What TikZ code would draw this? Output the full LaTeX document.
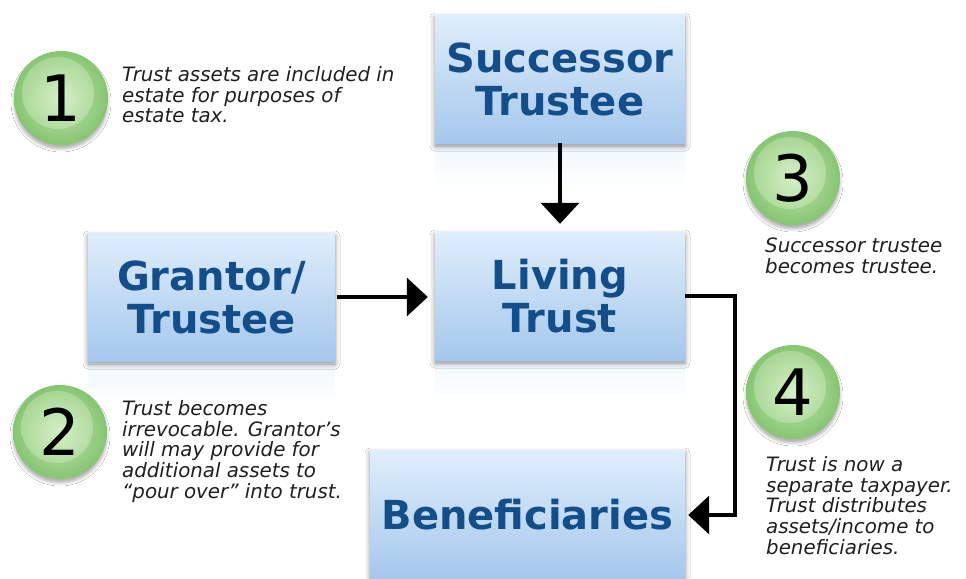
\documentclass[tikz,border=0pt]{standalone}
\usepackage{fontspec}
\setmainfont{DejaVu Sans}
\usetikzlibrary{arrows.meta,shadows.blur}
\definecolor{boxtop}{HTML}{DFEEFB}
\definecolor{boxbot}{HTML}{A5C7EC}
\definecolor{boxtext}{HTML}{134E8A}
\definecolor{gouter}{HTML}{86C571}
\definecolor{ginner}{HTML}{C4E7B2}
\definecolor{hlinner}{HTML}{E2F5D6}
\definecolor{hlouter}{HTML}{B4DDA2}
\begin{document}
\begin{tikzpicture}[x=1pt,y=-1pt,
  boxnode/.style={draw=none, top color=boxtop, bottom color=boxbot,
    minimum width=#1, minimum height=128pt, inner sep=0pt, align=center,
    text=boxtext, font=\fontsize{40}{43}\selectfont\bfseries,
    blur shadow={shadow xshift=0pt, shadow yshift=-3pt, shadow blur radius=5pt, shadow opacity=45}},
  boxnode/.default=250pt,
  reflect/.style={draw=none, top color=boxtop!45!white, bottom color=white},
  numcirc/.style={circle, minimum size=94pt, inner sep=0pt, draw=none,
    inner color=ginner, outer color=gouter,
    font=\fontsize{64}{64}\selectfont,
    blur shadow={shadow xshift=0pt, shadow yshift=-4pt, shadow blur radius=3pt, shadow opacity=30},
    path picture={\shade[inner color=hlinner, outer color=hlouter, opacity=0.6]
      ([xshift=-3pt,yshift=5pt]path picture bounding box.center) circle (36pt);}},
  note/.style={anchor=north west, inner sep=0pt, align=left,
    font=\fontsize{19.8}{20.8}\selectfont\itshape, text=black!88},
  conn/.style={line width=3.6pt, -{Triangle[length=21pt,width=38pt]}}
]
\fill[white] (0,0) rectangle (966,578);
\useasboundingbox (0,0) rectangle (966,578);

% reflections
\fill[reflect] (435,145) rectangle (685,188);
\fill[reflect] (88,364) rectangle (335,405);
\fill[reflect] (435,362) rectangle (685,400);

% boxes
\node[boxnode=250pt] (succ) at (560,79) {Successor\\Trustee};
\node[boxnode=250pt] (living) at (560,296) {Living\\Trust};
\node[boxnode=247pt] (grantor) at (211.5,297) {Grantor/\\Trustee};
\node[boxnode=315pt, minimum height=130pt] (benef) at (527.5,515) {Beneficiaries};

% connectors
\draw[conn, shorten >=8pt] (succ.south) -- (living.north);
\draw[conn, shorten <=2pt, shorten >=7pt] (grantor.east) -- (grantor.east -| living.west);
\coordinate (bend) at (735,296);
\draw[conn, shorten >=3pt] (living.east) -- (bend) |- (benef.east);

% numbered circles
\node[numcirc] (c1) at (61,98) {1};
\node[numcirc] (c2) at (60,432) {2};
\node[numcirc] (c3) at (793,178) {3};
\node[numcirc] (c4) at (793,392) {4};

% notes
\node[note] (t1) at (122,66) {Trust assets are included in\\estate for purposes of\\estate tax.};
\node[note] (t2) at (122,400) {Trust becomes\\irrevocable. Grantor’s\\will may provide for\\additional assets to\\“pour over” into trust.};
\node[note] (t3) at (765,238) {Successor trustee\\becomes trustee.};
\node[note] (t4) at (766,456) {Trust is now a\\separate taxpayer.\\Trust distributes\\assets/income to\\beneficiaries.};
\end{tikzpicture}
\end{document}
